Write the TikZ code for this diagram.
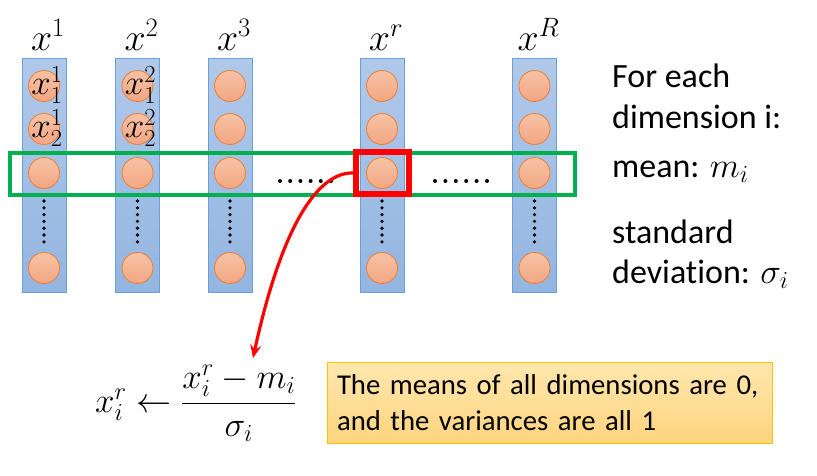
\RequirePackage{fix-cm}
\documentclass[tikz,border=0pt]{standalone}
\usepackage{fontspec}
\setmainfont{Carlito}[Ligatures=NoCommon]
\usetikzlibrary{arrows.meta}
\definecolor{coltop}{HTML}{B0C9EA}
\definecolor{colbot}{HTML}{93B5E1}
\definecolor{colborder}{HTML}{6A9FD8}
\definecolor{balltop}{HTML}{F7C2A6}
\definecolor{ballbot}{HTML}{F2A682}
\definecolor{ballborder}{HTML}{ED7D31}
\definecolor{grn}{HTML}{00B050}
\definecolor{ytop}{HTML}{FFE7AE}
\definecolor{ybot}{HTML}{FFD47E}
\definecolor{yborder}{HTML}{FFC000}
\newcommand{\sidemath}[1]{{\fontsize{35}{35}\selectfont$#1$}}
\begin{document}
\begin{tikzpicture}[x=1pt,y=-1pt,
  colbox/.style={draw=colborder, line width=0.8pt, top color=coltop, bottom color=colbot,
    minimum width=44pt, minimum height=234pt, inner sep=0pt},
  ball/.style={circle, draw=ballborder, line width=0.8pt, top color=balltop, bottom color=ballbot,
    minimum size=31pt, inner sep=0pt},
  vdot/.style={fill=black},
  toplabel/.style={anchor=base, font=\fontsize{38}{40}\selectfont, inner sep=0pt},
  inlabel/.style={font=\fontsize{35}{36}\selectfont, inner sep=0pt},
  sidetext/.style={anchor=base west, font=\fontsize{34}{36}\selectfont, inner sep=0pt},
  greenbox/.style={draw=grn, line width=4pt},
  redbox/.style={draw=red, line width=6pt, minimum width=53pt, minimum height=42pt, inner sep=0pt},
  link/.style={draw=red, line width=3.2pt, -{Stealth[length=13pt,width=11pt]}},
  ybox/.style={draw=yborder, line width=0.8pt, top color=ytop, bottom color=ybot,
    minimum width=445pt, minimum height=81pt, text width=425pt, align=left,
    font=\fontsize{28.7}{36}\selectfont, inner sep=0pt}
]
\useasboundingbox (0,0) rectangle (817,475);
\fill[white] (0,0) rectangle (817,475);

% columns
\foreach \n/\cx/\lab in {1/44/1, 2/137.5/2, 3/230/3, 4/382/r, 5/534.5/R}{
  \node[colbox] (col\n) at (\cx,175) {};
  \node[toplabel] (lab\n) at (\cx+4,50) {$x^{\lab}$};
  \node[ball] (b\n a) at (\cx,86) {};
  \node[ball] (b\n b) at (\cx,129) {};
  \node[ball] (b\n c) at (\cx,173) {};
  \node[ball] (b\n d) at (\cx,268) {};
  \foreach \k in {0,...,6}{
    \fill[vdot] (\cx,201+\k*6.8) circle (1.8pt);
  }
}

% labels inside circles
\node[inlabel] (l11) at (47,85) {$x_1^1$};
\node[inlabel] (l12) at (47,128) {$x_2^1$};
\node[inlabel] (l21) at (140.5,85) {$x_1^2$};
\node[inlabel] (l22) at (140.5,128) {$x_2^2$};

% horizontal dots
\foreach \k in {0,...,5}{
  \fill[vdot] (280+\k*10.2,181) circle (2pt);
  \fill[vdot] (435+\k*10.4,181) circle (2pt);
}

% green band
\draw[greenbox] (10,153) rectangle (575,195);

% red box and arrow
\node[redbox] (rbox) at (382.5,173) {};
\coordinate (tip) at (253,358);
\draw[link] (rbox.west) .. controls (318,172) and (282,225) .. (tip);

% side text
\node[sidetext] (t1) at (612,87) {For each};
\node[sidetext] (t2) at (612,128) {dimension i:};
\node[sidetext] (t3) at (612,177) {mean: \sidemath{m_i}};
\node[sidetext] (t4) at (612,243) {standard};
\node[sidetext] (t5) at (612,283) {deviation: \sidemath{\sigma_i}};

% formula
\node[anchor=base west, inner sep=0pt, font=\fontsize{35}{40}\selectfont] (formula) at (95,412)
  {$x_i^r \leftarrow \displaystyle\frac{x_i^r - m_i}{\sigma_i}$};

% yellow box
\node[ybox] (note) at (549.5,402.5) {The means of all dimensions are 0,\\and the variances are all 1};
\end{tikzpicture}
\end{document}
